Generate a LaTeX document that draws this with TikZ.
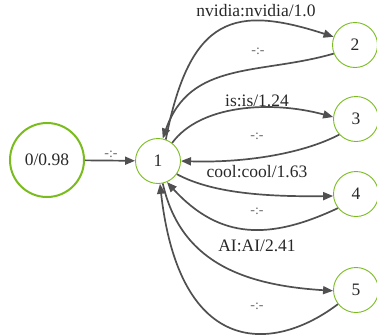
\documentclass[tikz,border=0pt]{standalone}
\usepackage{fontspec}
\setmainfont{Liberation Serif}
\usetikzlibrary{arrows.meta}
\definecolor{nvgreen}{RGB}{122,188,30}
\definecolor{edgegray}{RGB}{80,80,80}
\definecolor{txtgray}{RGB}{40,40,40}
\definecolor{lblgray}{RGB}{105,105,105}
\tikzset{
  state/.style={circle, draw=nvgreen, line width=0.9pt, minimum size=45pt, inner sep=0pt,
    text=txtgray, font=\fontsize{17.5}{20}\selectfont},
  startstate/.style={state, line width=2pt, minimum size=74pt},
  edge/.style={draw=edgegray, line width=1.7pt, -{Triangle[length=10pt,width=8pt]}},
  lbl/.style={text=txtgray, font=\fontsize{17.5}{20}\selectfont, inner sep=0pt},
  eps/.style={text=lblgray, font=\fontsize{14}{16}\selectfont, inner sep=0pt},
}
\begin{document}
\begin{tikzpicture}[x=1pt,y=-1pt]
\useasboundingbox (0,0) rectangle (377,335);
\node[startstate] (n0) at (47,160) {0/0.98};
\node[state] (n1) at (158,161) {1};
\node[state] (n2) at (355,45) {2};
\node[state] (n3) at (356,119) {3};
\node[state] (n4) at (356,194) {4};
\node[state] (n5) at (356,290) {5};

\draw[edge] (n0) -- (n1);
\draw[edge] (n1.70) .. controls (190,15) and (235,5) .. (n2.159);
\draw[edge] (n2.202) .. controls (260,75) and (190,60) .. (n1.78);
\draw[edge] (n1.52) .. controls (200,105) and (270,100) .. (n3.175);
\draw[edge] (n3.223) .. controls (300,155) and (240,163) .. (n1.0);
\draw[edge] (n1.-35) .. controls (210,192) and (260,197) .. (n4.185);
\draw[edge] (n4.218) .. controls (270,240) and (220,240) .. (n1.-67);
\draw[edge] (n1.-78) .. controls (180,260) and (240,285) .. (n5.182);
\draw[edge] (n5.218) .. controls (275,352) and (180,360) .. (n1.-85);

\node[eps] (l01) at (111,154) {-:-};
\node[lbl] (l12) at (256,11) {nvidia:nvidia/1.0};
\node[eps] (l21) at (258,51) {-:-};
\node[lbl] (l13) at (257,101) {is:is/1.24};
\node[eps] (l31) at (257,136) {-:-};
\node[lbl] (l14) at (257,172) {cool:cool/1.63};
\node[eps] (l41) at (257,211) {-:-};
\node[lbl] (l15) at (257,246) {AI:AI/2.41};
\node[eps] (l51) at (257,306) {-:-};
\end{tikzpicture}
\end{document}
